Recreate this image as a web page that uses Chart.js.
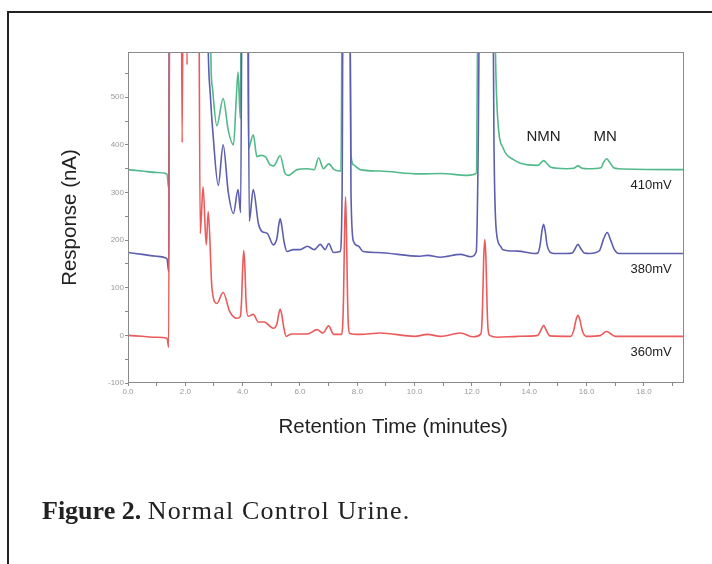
<!DOCTYPE html>
<html>
<head>
<meta charset="utf-8">
<script src="https://cdn.jsdelivr.net/npm/chart.js@4.4.1/dist/chart.umd.min.js"></script>
<style>
  html, body { margin: 0; padding: 0; background: #fff; }
  #wrap { position: relative; width: 712px; height: 564px; overflow: hidden; }
  #frame { position: absolute; left: 7px; top: 11px; width: 800px; height: 700px; border: 2px solid #222; box-sizing: border-box; }
  #chart { position: absolute; left: 0; top: 0; }
  #caption { position: absolute; left: 42px; top: 496px; font-family: "Liberation Serif", serif; font-size: 26px; color: #222; white-space: nowrap; }
  #caption b { font-weight: bold; }
  #caption span { letter-spacing: 1.2px; }
</style>
</head>
<body>
<div id="wrap">
  <div id="frame"></div>
  <canvas id="chart" width="712" height="564"></canvas>
  <div id="caption"><b>Figure 2.</b> <span>Normal Control Urine.</span></div>
</div>
<script>
// retention time (min) and response (nA) for each trace
const redTime = [0, 0.5, 1.0, 1.36, 1.42, 1.46, 1.84, 1.89, 1.94, 2.02, 2.06, 2.1, 2.45, 2.52, 2.62, 2.73, 2.8, 2.93, 3.1, 3.32, 3.55, 3.8, 3.92, 3.96, 4.0, 4.04, 4.08, 4.12, 4.19, 4.37, 4.55, 4.75, 5.07, 5.2, 5.26, 5.31, 5.36, 5.44, 5.52, 5.7, 6.26, 6.6, 6.8, 7.0, 7.18, 7.45, 7.49, 7.52, 7.555, 7.59, 7.625, 7.66, 7.69, 7.74, 8.1, 8.8, 10.0, 10.45, 10.9, 11.6, 12.05, 12.3, 12.34, 12.37, 12.41, 12.45, 12.49, 12.53, 12.56, 12.62, 12.9, 13.6, 14.3, 14.4, 14.5, 14.6, 14.72, 15.45, 15.55, 15.63, 15.7, 15.77, 15.85, 15.98, 16.5, 16.6, 16.7, 16.8, 17.0, 19.4];
const redResp = [0, -2, -4, -6, -25, 1000, 1000, 405, 1000, 1000, 568, 1000, 1000, 214, 312, 190, 260, 99, 67, 90, 50, 36, 40, 70, 140, 178, 140, 70, 40, 44, 28, 28, 15, 25, 45, 55, 45, 15, -2, 3, 3, 12, 5, 20, 2, 2, 20, 80, 210, 291, 210, 80, 20, 4, 2, 5, -2, 2, -2, 5, -3, 2, 15, 60, 160, 201, 160, 60, 15, 0, -4, -2, 0, 10, 21, 10, -1, -2, 10, 32, 42, 32, 10, -2, 0, 5, 8, 5, -2, -2];

const blueTime = [0, 0.5, 1.0, 1.36, 1.42, 1.46, 2.72, 2.8, 2.87, 2.97, 3.15, 3.32, 3.5, 3.68, 3.84, 3.93, 4.0, 4.17, 4.23, 4.37, 4.55, 4.68, 4.86, 5.07, 5.2, 5.26, 5.31, 5.36, 5.45, 5.55, 5.77, 6.0, 6.26, 6.5, 6.71, 6.88, 7.0, 7.17, 7.4, 7.47, 7.52, 7.72, 7.78, 7.87, 8.05, 8.2, 8.7, 10.2, 10.45, 10.9, 11.6, 11.95, 12.15, 12.22, 12.3, 12.7, 12.77, 12.85, 13.0, 13.08, 13.6, 14.2, 14.3, 14.38, 14.44, 14.5, 14.56, 14.62, 14.72, 14.85, 15.3, 15.5, 15.6, 15.7, 15.8, 15.92, 16.1, 16.45, 16.58, 16.72, 16.84, 16.97, 17.13, 19.4];
const blueResp = [174, 170, 166, 161, 134, 1000, 1000, 600, 507, 420, 315, 400, 300, 256, 306, 258, 1000, 1000, 240, 306, 235, 218, 214, 190, 205, 232, 245, 232, 195, 176, 180, 180, 187, 180, 191, 180, 193, 174, 176, 300, 1000, 1000, 300, 197, 187, 176, 174, 166, 168, 164, 170, 165, 175, 400, 1000, 1000, 400, 220, 187, 180, 177, 172, 173, 190, 218, 233, 218, 190, 175, 172, 172, 173, 182, 191, 182, 173, 172, 178, 200, 216, 200, 180, 172, 172];

const greenTime = [0, 0.5, 1.0, 1.36, 1.42, 1.46, 2.8, 2.9, 2.95, 3.1, 3.32, 3.5, 3.68, 3.78, 3.84, 3.92, 3.97, 4.15, 4.2, 4.37, 4.5, 4.63, 4.8, 4.96, 5.08, 5.31, 5.48, 5.6, 5.9, 6.26, 6.5, 6.65, 6.82, 7.0, 7.2, 7.43, 7.5, 7.7, 7.78, 7.87, 8.1, 8.8, 10.2, 10.9, 11.85, 12.15, 12.25, 12.75, 12.82, 12.9, 13.1, 13.45, 13.95, 14.3, 14.4, 14.5, 14.6, 14.75, 15.3, 15.55, 15.7, 15.85, 16.05, 16.5, 16.6, 16.7, 16.8, 16.95, 17.1, 19.4];
const greenResp = [348, 345, 342, 339, 308, 1000, 1000, 560, 518, 440, 497, 430, 400, 500, 553, 455, 1000, 1000, 392, 421, 375, 378, 375, 358, 356, 377, 340, 336, 348, 350, 348, 373, 350, 360, 348, 345, 1000, 1000, 380, 358, 348, 345, 339, 340, 336, 340, 1000, 1000, 600, 455, 392, 369, 358, 357, 362, 367, 362, 353, 350, 351, 356, 351, 350, 352, 364, 371, 364, 352, 350, 348];

const seriesNames = ["360mV", "380mV", "410mV"];

// text labels placed at data coordinates
const peakLabels = [
  { text: "NMN", x: 14.5, y: 417, size: 15 },
  { text: "MN", x: 16.65, y: 417, size: 15 },
  { text: "410mV", x: 18.25, y: 314, size: 13 },
  { text: "380mV", x: 18.25, y: 138, size: 13 },
  { text: "360mV", x: 18.25, y: -36, size: 13 },
];

const toPoints = (t, r) => t.map((x, i) => ({ x: x, y: r[i] }));

const sans = "'Liberation Sans', Arial, sans-serif";

// plot box, peak / voltage labels and the x axis title
const extras = {
  id: "extras",
  afterDatasetsDraw(chart) {
    const { ctx, chartArea: a, scales } = chart;
    ctx.save();
    ctx.strokeStyle = "#8a8a8a";
    ctx.lineWidth = 1;
    ctx.strokeRect(a.left + 0.5, a.top + 0.5, a.right - a.left - 1, a.bottom - a.top - 1);
    ctx.fillStyle = "#222";
    ctx.textAlign = "center";
    ctx.textBaseline = "middle";
    peakLabels.forEach((l) => {
      ctx.font = l.size + "px " + sans;
      ctx.fillText(l.text, scales.x.getPixelForValue(l.x), scales.y.getPixelForValue(l.y));
    });
    // x title sits a little left of the plot centre in the original
    ctx.font = "20.5px " + sans;
    ctx.fillText("Retention Time (minutes)", a.left + (a.right - a.left) * 0.477, a.bottom + 44);
    ctx.restore();
  },
};

const lineStyle = (color) => ({
  borderColor: color,
  backgroundColor: color,
  borderWidth: 1.6,
  pointRadius: 0,
  cubicInterpolationMode: "monotone",
  fill: false,
  clip: 0,
});

new Chart(document.getElementById("chart"), {
  type: "line",
  plugins: [extras],
  data: {
    datasets: [
      { label: seriesNames[0], data: toPoints(redTime, redResp), ...lineStyle("#ec5b5b") },
      { label: seriesNames[1], data: toPoints(blueTime, blueResp), ...lineStyle("#5d5fae") },
      { label: seriesNames[2], data: toPoints(greenTime, greenResp), ...lineStyle("#52b98a") },
    ],
  },
  options: {
    responsive: false,
    animation: false,
    layout: { padding: { left: 58, top: 52, right: 28, bottom: 126 } },
    plugins: { legend: { display: false }, tooltip: { enabled: false } },
    scales: {
      x: {
        type: "linear",
        min: 0,
        max: 19.4,
        afterFit: (s) => { s.height = 55; },
        border: { display: false },
        grid: { drawOnChartArea: false, drawTicks: true, tickLength: 3, color: "#8a8a8a" },
        ticks: {
          stepSize: 1,
          includeBounds: false,
          autoSkip: false,
          maxRotation: 0,
          padding: 1,
          color: "#999",
          font: { size: 8, family: sans },
          callback: (v) => (Math.round(v) % 2 === 0 ? v.toFixed(1) : ""),
        },
        title: { display: false },
      },
      y: {
        min: -100,
        max: 595,
        afterFit: (s) => { s.width = 70; },
        border: { display: false },
        grid: { drawOnChartArea: false, drawTicks: true, tickLength: 3, color: "#8a8a8a" },
        ticks: {
          stepSize: 50,
          includeBounds: false,
          autoSkip: false,
          padding: 1,
          color: "#999",
          font: { size: 8, family: sans },
          callback: (v) => (v % 100 === 0 ? String(v) : ""),
        },
        title: {
          display: true,
          text: "Response (nA)",
          color: "#222",
          padding: { top: 0, bottom: 0 },
          font: { size: 20.5, family: sans },
        },
      },
    },
  },
});
</script>
</body>
</html>
